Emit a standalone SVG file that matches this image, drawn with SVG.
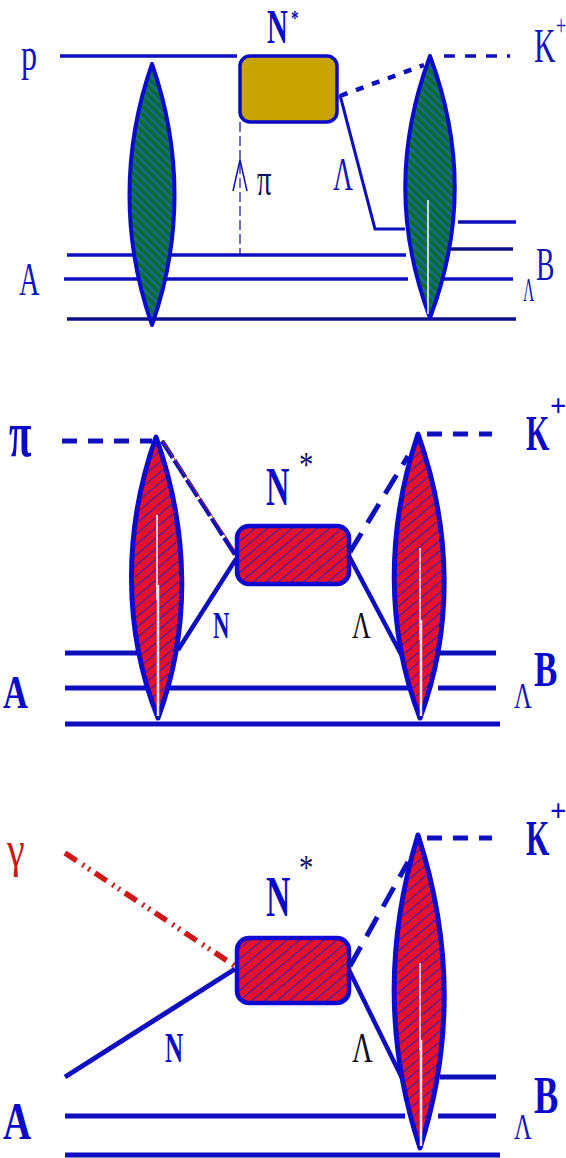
<svg xmlns="http://www.w3.org/2000/svg" width="566" height="1158" viewBox="0 0 566 1158">
<style>
text{font-family:"Liberation Serif","Times New Roman",serif;fill:#1414c0}
.b{font-weight:bold;fill:#0a0ac8}
.k{fill:#101060}
.l{fill:none;stroke:#0f0fc0;stroke-width:4.5}
.w{fill:none;stroke:#fff;stroke-width:1.5}
.g{fill:url(#hg);stroke:#0a0ad0;stroke-width:4;stroke-linejoin:round}
.r{fill:url(#hr);stroke:#0a0ad0;stroke-width:5;stroke-linejoin:round}
</style>
<defs>
<pattern id="hg" width="6" height="6" patternUnits="userSpaceOnUse" patternTransform="rotate(45)"><rect width="6" height="6" fill="#0a6c30"/><rect width="6" height="2.4" fill="#1c6a90"/></pattern>
<pattern id="hr" width="8" height="8" patternUnits="userSpaceOnUse" patternTransform="rotate(-40)"><rect width="8" height="8" fill="#e8102c"/><rect width="8" height="1.2" fill="#4020a0"/></pattern>
</defs>
<g id="connectors">
<path class="l" style="stroke-width:3.5" d="M60 56H237M67 255H406M64 279H408M443 279H513M458 222H516"/>
<path class="l" style="stroke-width:3.5;stroke:#10108c" d="M451 249H513M67 319H516"/>
<path class="l" style="stroke-width:1.3;stroke:#2020a0;stroke-dasharray:10 4" d="M240 122V255"/>
<path class="l" style="stroke-width:1.5" d="M233 191L240 160L247 191"/>
<path class="l" style="stroke-width:3" d="M340 95L375 229H405"/>
<path class="l" style="stroke-dasharray:8 9" d="M340 96L424 65"/>
<path class="l" style="stroke-width:3.5;stroke-dasharray:11 10" d="M444 56H510"/>
<path class="l" style="stroke-width:5" d="M62 441H152M427 434H492M427 838H492" stroke-dasharray="15 11"/>
<path class="l" stroke-dasharray="20 3" d="M162 441L236 556"/>
<path d="M162 440L236 552" fill="none" stroke="#a03030" stroke-width="1"/>
<path class="l" d="M178 650L236 559M349 556L403 658"/>
<path class="l" style="stroke-width:5" stroke-dasharray="22 12" d="M350 552L408 456"/>
<path class="l" style="stroke-width:5" d="M65 653H143M440 653H496M65 688H146M168 688H412M438 688H496M65 724H500"/>
<path d="M65 853L235 966" fill="none" stroke="#d01818" stroke-width="5.5" stroke-dasharray="14 7 2 5 2 6"/>
<path class="l" style="stroke-width:5" d="M65 1077L235 969"/>
<path class="l" d="M349 970L403 1080"/>
<path class="l" style="stroke-width:5" stroke-dasharray="22 12" d="M350 966L408 862"/>
<path class="l" style="stroke-width:5" d="M440 1077H496M65 1116H405M438 1116H496M65 1155H500"/>
</g>
<g id="lens-1a"><path class="g" d="M152 64C122 150 122 240 152 325C182 240 182 150 152 64Z"/></g>
<g id="box-1"><rect x="240" y="56" width="97" height="66" rx="10" fill="#c8a400" stroke="#0a0ac8" stroke-width="3.5"/></g>
<g id="lens-1b"><path class="g" d="M430 56C397 145 397 230 430 318C463 230 463 145 430 56Z"/><path class="w" d="M428 200V314"/></g>
<g id="lens-2a"><path class="r" d="M156 437C123 530 123 630 158 718C191 630 189 530 156 437Z"/><path class="w" d="M157 515V600"/><path class="w" style="stroke-width:2.5;stroke:#f4e4e4" d="M158 585V716"/></g>
<g id="box-2"><rect x="237" y="526" width="112" height="58" rx="12" fill="url(#hr)" stroke="#0a0ad0" stroke-width="4.5"/></g>
<g id="lens-2b"><path class="r" d="M418 434C386 530 386 630 420 718C453 630 452 530 418 434Z"/><path class="w" d="M420 548V640"/><path class="w" style="stroke-width:2.5;stroke:#f4e4e4" d="M421 620V716"/></g>
<g id="box-3"><rect x="237" y="938" width="112" height="65" rx="12" fill="url(#hr)" stroke="#0a0ad0" stroke-width="4.5"/></g>
<g id="lens-3"><path class="r" d="M418 835C386 940 386 1045 420 1148C453 1045 452 940 418 835Z"/><path class="w" d="M420 963V1050"/><path class="w" style="stroke-width:2.5;stroke:#f4e4e4" d="M421 1040V1146"/></g>
<g id="labels">
<text transform="translate(21 70) scale(.7 1)" font-size="46">p</text>
<text transform="translate(267 43) scale(.6 1)" font-size="48" class="b">N</text>
<text transform="translate(291 25) scale(.7 1)" font-size="22" class="b">*</text>
<text transform="translate(534 62) scale(.62 1)" font-size="48">K</text>
<text transform="translate(556 35) scale(.6 1)" font-size="30">+</text>
<text transform="translate(257 195) scale(.62 1)" font-size="46" class="k">π</text>
<text transform="translate(333 190) scale(.6 1)" font-size="46">Λ</text>
<text transform="translate(19 295) scale(.62 1)" font-size="46">A</text>
<text transform="translate(523 301) scale(.46 1)" font-size="34">Λ</text>
<text transform="translate(536 280) scale(.6 1)" font-size="46">B</text>

<text transform="translate(9 456) scale(.62 1)" font-size="66" class="b">π</text>
<text transform="translate(266 505) scale(.6 1)" font-size="54" class="b">N</text>
<text transform="translate(299 477) scale(.8 1)" font-size="36" class="k">*</text>
<text transform="translate(526 450) scale(.6 1)" font-size="50" class="b">K</text>
<text transform="translate(550 416) scale(.9 1)" font-size="32" class="b">+</text>
<text transform="translate(213 638) scale(.6 1)" font-size="38" class="b">N</text>
<text transform="translate(352 638) scale(.68 1)" font-size="38" style="fill:#101020">Λ</text>
<text transform="translate(3 708) scale(.75 1)" font-size="46" class="b">A</text>
<text transform="translate(514 708) scale(.68 1)" font-size="36">Λ</text>
<text transform="translate(534 686) scale(.7 1)" font-size="50" class="b">B</text>

<text transform="translate(7 866) scale(.8 1)" font-size="50" style="fill:#c81818">γ</text>
<text transform="translate(266 916) scale(.6 1)" font-size="56" class="b">N</text>
<text transform="translate(299 880) scale(.8 1)" font-size="36" class="k">*</text>
<text transform="translate(526 855) scale(.6 1)" font-size="50" class="b">K</text>
<text transform="translate(550 821) scale(.9 1)" font-size="32" class="b">+</text>
<text transform="translate(165 1062) scale(.6 1)" font-size="42" class="b">N</text>
<text transform="translate(352 1062) scale(.68 1)" font-size="42" style="fill:#101020">Λ</text>
<text transform="translate(3 1139) scale(.75 1)" font-size="52" class="b">A</text>
<text transform="translate(514 1139) scale(.68 1)" font-size="36">Λ</text>
<text transform="translate(534 1113) scale(.7 1)" font-size="52" class="b">B</text>
</g>
</svg>
